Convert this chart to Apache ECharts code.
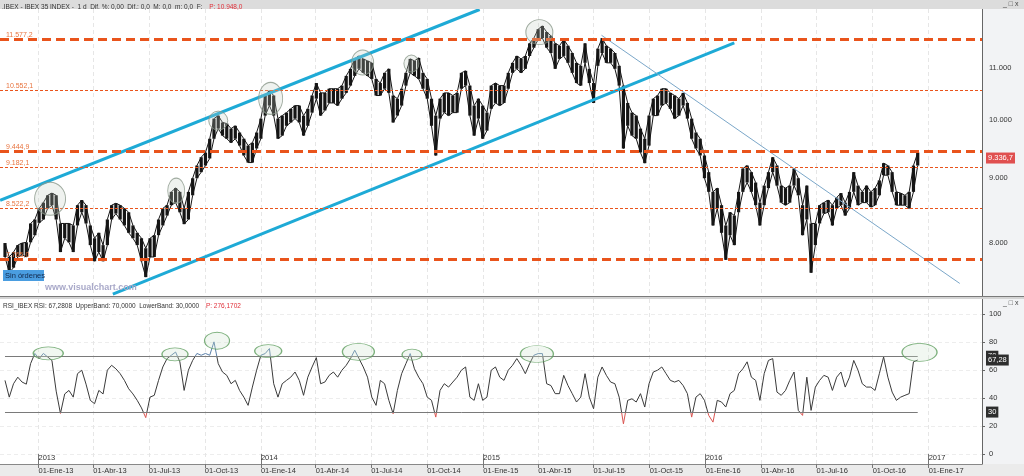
<!DOCTYPE html>
<html lang="es">
<head>
<meta charset="utf-8">
<title>IBEX 35</title>
<script src="https://cdn.jsdelivr.net/npm/echarts@6.0.0/dist/echarts.min.js"></script>
<style>
html,body{margin:0;padding:0;background:#fff;overflow:hidden}
#chart{width:1024px;height:476px}
</style>
</head>
<body>
<div id="chart"></div>
<script>
// ---------------- data ----------------
const firstWeek = '2012-11-07'; // weekly samples (one per week)
const weekLow = [
7800,7580,7650,7800,7830,7800,8010,8115,8300,8350,
8520,8570,8350,7870,8070,8010,7870,8260,8460,8290,
7970,7740,7870,7740,7970,8350,8440,8350,8260,8150,
8070,7970,7740,7520,7800,7800,8115,8260,8410,8570,
8610,8460,8280,8350,8725,9000,9100,9210,9330,9670,
9850,9725,9670,9600,9670,9550,9380,9260,9260,9500,
9670,10085,10270,10085,9670,9725,9900,9960,10030,9960,
9725,9900,10140,10400,10085,10180,10320,10320,10270,10400,
10510,10650,10840,10980,10900,10840,10780,10460,10460,10590,
10510,9960,10085,10270,10650,10900,10840,10780,10590,10400,
9900,9380,10030,10140,10085,10140,10140,10590,10650,10085,
9725,10030,9670,9814,10210,10320,10270,10320,10590,10900,
10980,10900,10980,11240,11410,11580,11610,11410,11300,10980,
11180,11240,11100,10900,10700,10650,11100,10700,10320,11040,
11300,11100,11100,10980,10650,9500,9900,9725,9670,9430,
9250,9550,10085,10085,10270,10320,10210,10030,10085,10270,
10030,9670,9500,9380,9000,8780,8260,8520,8150,7760,
8115,7970,8460,8780,8930,8780,8570,8260,8570,8840,
9100,8880,8610,8570,8610,8880,8725,8115,8350,7580,
7970,8290,8440,8460,8260,8520,8570,8410,8520,8780,
8570,8610,8610,8540,8570,8725,9050,9050,8780,8570,
8570,8570,8520,8780,9210];
const weekHigh = [
8000,7800,7870,7970,8000,8010,8290,8350,8520,8610,
8725,8760,8725,8290,8290,8290,8260,8570,8650,8570,
8260,8070,8150,7970,8350,8570,8600,8570,8520,8460,
8260,8150,8070,7925,8070,8115,8350,8520,8570,8780,
8840,8780,8520,8780,9000,9210,9350,9430,9670,10030,
10085,9960,9940,9850,9900,9780,9670,9550,9600,9780,
10030,10460,10550,10460,10030,10085,10140,10210,10270,10270,
10085,10210,10460,10700,10510,10510,10590,10590,10590,10650,
10840,10980,11180,11240,11180,11140,11100,10780,10700,10900,
10980,10460,10400,10590,10900,11180,11140,11200,10900,10780,
10400,10085,10400,10510,10510,10460,10510,10900,10940,10650,
10270,10400,10270,10140,10650,10700,10650,10650,10900,11100,
11240,11180,11240,11500,11610,11800,11870,11740,11660,11500,
11450,11580,11450,11300,11100,11040,11500,10980,10700,11390,
11610,11450,11390,11300,11040,10650,10320,10140,10085,9850,
9670,10085,10400,10460,10590,10590,10510,10460,10400,10510,
10320,10030,9780,9670,9380,9100,8780,8840,8570,8260,
8460,8410,8780,9160,9210,9100,8930,8610,8880,9100,
9350,9210,8880,8840,8880,9160,9000,8570,8880,8290,
8290,8570,8610,8650,8570,8690,8760,8610,8780,9100,
8880,8780,8880,8780,8840,8965,9250,9210,9100,8780,
8760,8725,8780,9210,9430];
const rsiWeekly = [
52.7,40.7,50.3,55,51.5,50,64.7,72,68.3,72,
69.5,67,45,29,43,45.5,40.7,57.5,60,50,
38.4,36,45.5,43,60,63.5,61,57.5,52.7,46.7,
43,38.4,33,26,40.7,42,52.7,62.3,68.3,70.7,
73,66,45.5,60,67,72,70.7,72,70.7,80.3,
64.7,58.7,56.3,50.3,52.7,45.5,40.7,34.8,47.9,60,
70.7,71.9,75.5,50.3,40.7,50.3,52.7,55,58.7,52.7,
42,55,62.3,69,50.3,51.5,56.3,58.7,55,60,
63.5,68.3,74.3,68.3,62.3,55,40.7,34.8,52.7,50.3,
38.4,28.8,45.5,57.5,64.7,71.9,61,55,50.3,40.7,
38.4,26.4,45.5,50.3,47.9,51.5,55,60,62.3,40.7,
38.4,50.3,38.4,40.7,60,62.3,55,52.7,60,63.5,
68.3,63.5,57.5,64.7,70.7,71.9,71.9,50.3,49,43.2,
43.2,56.3,49,43.2,37.2,40.7,57.5,40.7,32.4,55,
62.3,56.3,51.5,50.3,40.7,21.6,38.4,39.5,37.2,43.2,
33.6,50.3,58.7,60,62.3,57.5,52.7,51.5,52.7,49,
43.2,26.4,40.7,43.2,38.4,27.6,22.8,38.4,37.2,33.6,
43.2,45.5,57.5,61,66,55,52.7,38.4,57.5,67,
68.3,44.3,42,45.5,52.7,58.7,31.2,27.6,55,31.2,
47.9,52.7,56.3,55,45.5,55,58.7,47.9,55,67,
60,50.3,47.9,47.9,45.5,57.5,69.5,55,44.3,38.4,
40.7,42,43.2,66,67.3];
const quarterTicks = ['2013-01-01','2013-04-01','2013-07-01','2013-10-01','2014-01-01','2014-04-01','2014-07-01','2014-10-01',
  '2015-01-01','2015-04-01','2015-07-01','2015-10-01','2016-01-01','2016-04-01','2016-07-01','2016-10-01','2017-01-01'];
const yearTicks = ['2013-01-01','2014-01-01','2015-01-01','2016-01-01','2017-01-01'];
const thickLevels = [11577.2, 9444.9, 7765.0];
const thinLevels = [10552.1, 9182.1, 8522.2];
const priceTickValues = [8000, 9000, 10000, 11000];
const rsiTickValues = [0, 20, 40, 60, 80, 100];
const rsiBands = [70, 30];
const lastPrice = 9336.7;
const lastRsi = 67.28;
const upperChannel = [['2012-10-30', 8647], ['2014-12-26', 12230]];
const lowerChannel = [['2013-05-03', 7291], ['2016-02-17', 11510]];
const downTrend = [['2015-07-14', 11671], ['2017-02-21', 7434]];
const priceMarks = [['2013-01-20', 8671], ['2013-08-15', 8798], ['2013-10-23', 9993], ['2014-01-17', 10405],
  ['2014-06-17', 11106], ['2014-09-05', 11086], ['2015-04-03', 11737]];
const rsiMarks = [['2013-01-17', 72.1], ['2013-08-13', 71.4], ['2013-10-21', 81.1], ['2014-01-13', 73.7],
  ['2014-06-10', 73.2], ['2014-09-06', 71.1], ['2015-03-30', 71.6], ['2016-12-17', 72.8]];
// annotation sizes (style only)
const priceMarkSizes = [[31, 33], [17, 25], [19, 19], [24, 32], [22, 25], [15, 17], [27, 25]];
const rsiMarkSizes = [[30, 13], [26, 13], [25, 17], [27, 13], [32, 17], [20, 11], [33, 17], [35, 18]];

// ---------------- helpers ----------------
const DAY = 86400000;
const T = s => { const p = s.split('-').map(Number); return Date.UTC(p[0], p[1] - 1, p[2]); };
const weekDates = weekLow.map((_, i) => T(firstWeek) + i * 7 * DAY);
const fmtES = (v, dec) => {
  const parts = v.toFixed(dec).split('.');
  const i = parts[0].replace(/\B(?=(\d{3})+(?!\d))/g, '.');
  return parts[1] ? i + ',' + parts[1] : i;
};
const MESES = ['Ene','Feb','Mar','Abr','May','Jun','Jul','Ago','Sep','Oct','Nov','Dic'];
const FONT = "'Liberation Sans', Arial, sans-serif";
const xMin = T('2013-01-01') - 63.2 * DAY;
const xMax = T('2013-01-01') + 1548.5 * DAY;
const qTicks = quarterTicks.map(T);
const yTicks = yearTicks.map(T);
const toPts = arr => arr.map(p => [T(p[0]), p[1]]);
const HIDDEN_LINE = {width: 0, color: 'rgba(0,0,0,0)'};

const chart = echarts.init(document.getElementById('chart'), null, {renderer: 'canvas'});

const gridLine = {show: true, lineStyle: {color: '#e6e6e6', width: 1, type: [4, 3]}};
const tagLabel = (text, bg) => ({show: true, position: 'end', formatter: text, backgroundColor: bg, color: '#fff',
  padding: [2, 2, 1, 2], fontSize: 7.5, fontFamily: FONT, distance: 4});

const option = {
  animation: false,
  backgroundColor: '#ffffff',
  textStyle: {fontFamily: FONT},
  grid: [
    {left: 0, right: 42, top: 9, height: 287},
    {left: 0, right: 42, top: 299, height: 165}
  ],
  xAxis: [
    {type: 'value', gridIndex: 0, min: xMin, max: xMax, scale: true,
      axisLine: {show: false}, axisLabel: {show: false},
      axisTick: {show: false, customValues: qTicks}, splitLine: gridLine},
    {type: 'value', gridIndex: 1, min: xMin, max: xMax, position: 'bottom', scale: true,
      axisLine: {show: true, onZero: false, lineStyle: {color: '#888', width: 1}},
      axisTick: {show: true, customValues: qTicks, length: 4, lineStyle: {color: '#777'}},
      axisLabel: {customValues: qTicks, align: 'left', margin: 3, fontSize: 7.5, color: '#333', fontFamily: FONT,
        formatter: v => { const d = new Date(v); return '01-' + MESES[d.getUTCMonth()] + '-' + String(d.getUTCFullYear()).slice(2); }},
      splitLine: gridLine},
    {type: 'value', gridIndex: 1, min: xMin, max: xMax, position: 'bottom', scale: true,
      axisLine: {show: false, onZero: false},
      axisTick: {show: true, inside: true, customValues: yTicks, length: 10, lineStyle: {color: '#777'}},
      axisLabel: {show: true, inside: true, customValues: yTicks, align: 'left', margin: 2, fontSize: 7.5, color: '#333', fontFamily: FONT,
        formatter: v => String(new Date(v).getUTCFullYear())},
      splitLine: {show: false}}
  ],
  yAxis: [
    {type: 'log', logBase: 10, gridIndex: 0, position: 'right', min: 7266, max: 12241,
      axisLine: {show: true, lineStyle: {color: '#666'}}, axisTick: {show: false},
      axisLabel: {show: false}, splitLine: {show: false}},
    {type: 'value', gridIndex: 1, position: 'right', min: -7.2, max: 111,
      axisLine: {show: true, lineStyle: {color: '#666'}},
      axisTick: {show: true, customValues: rsiTickValues, length: 3, lineStyle: {color: '#666'}},
      axisLabel: {customValues: rsiTickValues, fontSize: 7.5, color: '#333', margin: 7, fontFamily: FONT},
      splitLine: {show: true, lineStyle: {color: '#ededed', type: [4, 3]}}}
  ],
  visualMap: [{
    type: 'piecewise', show: false, seriesIndex: 9, dimension: 1,
    pieces: [{lt: 30, color: '#d9534f'}, {gte: 30, lte: 70, color: '#3a3a3a'}, {gt: 70, color: '#5a7fa8'}]
  }],
  series: [
    // 0: support / resistance levels
    {type: 'line', xAxisIndex: 0, yAxisIndex: 0, data: [], z: 1, silent: true,
      markLine: {symbol: ['none', 'none'], silent: true, animation: false,
        label: {position: 'insideStartTop', color: '#e8743f', fontSize: 7, fontFamily: FONT, distance: [6, 1]},
        data: [
          ...thickLevels.map(v => ({yAxis: v, lineStyle: {color: '#e9541c', width: 3, type: [9, 5]}, label: {formatter: fmtES(v, 1)}})),
          ...thinLevels.map(v => ({yAxis: v, lineStyle: {color: '#e9541c', width: 1.2, type: [3, 2]}, label: {formatter: fmtES(v, 1)}}))
        ]}},
    // 1: weekly high-low bars
    {type: 'custom', xAxisIndex: 0, yAxisIndex: 0, z: 3, silent: true,
      data: weekDates.map((t, i) => [t, weekLow[i], weekHigh[i]]),
      encode: {x: 0, y: [1, 2]},
      renderItem: (params, api) => {
        const t = api.value(0);
        const a = api.coord([t, api.value(1)]);
        const b = api.coord([t, api.value(2)]);
        return {type: 'line', shape: {x1: a[0], y1: a[1], x2: b[0], y2: b[1]}, style: {stroke: '#151515', lineWidth: 3.2}};
      }},
    // 2,3: high / low envelopes
    {type: 'line', xAxisIndex: 0, yAxisIndex: 0, z: 3, silent: true, showSymbol: false,
      data: weekDates.map((t, i) => [t, weekHigh[i]]), lineStyle: {color: '#151515', width: 1}},
    {type: 'line', xAxisIndex: 0, yAxisIndex: 0, z: 3, silent: true, showSymbol: false,
      data: weekDates.map((t, i) => [t, weekLow[i]]), lineStyle: {color: '#151515', width: 1}},
    // 4,5: channel
    {type: 'line', xAxisIndex: 0, yAxisIndex: 0, z: 4, silent: true, showSymbol: false,
      data: toPts(upperChannel), lineStyle: {color: '#1eaad6', width: 3}},
    {type: 'line', xAxisIndex: 0, yAxisIndex: 0, z: 4, silent: true, showSymbol: false,
      data: toPts(lowerChannel), lineStyle: {color: '#1eaad6', width: 3}},
    // 6: descending trend line
    {type: 'line', xAxisIndex: 0, yAxisIndex: 0, z: 4, silent: true, showSymbol: false,
      data: toPts(downTrend), lineStyle: {color: '#7ba7c9', width: 1}},
    // 7: circled highs
    {type: 'scatter', xAxisIndex: 0, yAxisIndex: 0, z: 5, silent: true,
      data: toPts(priceMarks),
      symbol: 'circle', symbolSize: (v, p) => priceMarkSizes[p.dataIndex],
      itemStyle: {color: 'rgba(195,205,195,0.32)', borderColor: '#8a978a', borderWidth: 1}},
    // 8: price axis labels + last price tag
    {type: 'line', xAxisIndex: 0, yAxisIndex: 0, data: [], z: 6, silent: true,
      markLine: {symbol: ['none', 'none'], silent: true, animation: false,
        lineStyle: HIDDEN_LINE,
        label: {show: true, position: 'end', fontSize: 7.5, color: '#333', distance: 7, fontFamily: FONT},
        data: [
          ...priceTickValues.map(v => ({yAxis: v, lineStyle: HIDDEN_LINE, label: {formatter: fmtES(v, 0)}})),
          {yAxis: lastPrice, lineStyle: HIDDEN_LINE, label: tagLabel(fmtES(lastPrice, 1), '#e05050')}
        ]}},
    // 9: RSI
    {type: 'line', xAxisIndex: 1, yAxisIndex: 1, z: 3, silent: true, showSymbol: false,
      data: weekDates.map((t, i) => [t, rsiWeekly[i]]), lineStyle: {width: 1}},
    // 10: RSI bands and tags
    {type: 'line', xAxisIndex: 1, yAxisIndex: 1, data: [], z: 2, silent: true,
      markLine: {symbol: ['none', 'none'], silent: true, animation: false,
        data: [
          ...rsiBands.map(v => [{coord: [weekDates[0], v], lineStyle: {color: '#7a7a7a', width: 1, type: 'solid'}, label: {show: false}},
                                {coord: [weekDates[weekDates.length - 1], v]}]),
          ...rsiBands.map(v => ({yAxis: v, lineStyle: HIDDEN_LINE, label: tagLabel(fmtES(v, 0), '#2e2e2e')})),
          {yAxis: lastRsi, lineStyle: HIDDEN_LINE, label: tagLabel(fmtES(lastRsi, 2), '#2e2e2e')}
        ]}},
    // 11: circled RSI peaks
    {type: 'scatter', xAxisIndex: 1, yAxisIndex: 1, z: 5, silent: true,
      data: toPts(rsiMarks),
      symbol: 'circle', symbolSize: (v, p) => rsiMarkSizes[p.dataIndex],
      itemStyle: {color: 'rgba(205,228,205,0.35)', borderColor: '#5e9e5e', borderWidth: 1}}
  ],
  graphic: [
    {type: 'rect', z: -10, shape: {x: 983, y: 9, width: 41, height: 455}, style: {fill: '#f2f3f5'}},
    {type: 'rect', z: -10, shape: {x: 0, y: 464, width: 1024, height: 12}, style: {fill: '#ebebeb'}},
    {type: 'rect', z: 50, shape: {x: 0, y: 0, width: 1024, height: 9}, style: {fill: '#dcdcdc'}},
    {type: 'rect', z: 50, shape: {x: 0, y: 296, width: 1024, height: 3}, style: {fill: '#d4d4d4'}},
    {type: 'line', z: 51, shape: {x1: 0, y1: 296.5, x2: 1024, y2: 296.5}, style: {stroke: '#7a7a7a', lineWidth: 1}},
    {type: 'text', z: 60, x: 2, y: 1, style: {
      text: '{a|.IBEX - IBEX 35 INDEX -  1 d  Dif. %: 0,00  Dif.: 0,0  M: 0,0  m: 0,0  F:}  {b|P: 10.948,0}',
      rich: {a: {fontSize: 6.5, fontFamily: FONT, fill: '#333', color: '#333'}, b: {fontSize: 6.5, fontFamily: FONT, fill: '#e0303a', color: '#e0303a'}}}},
    {type: 'text', z: 60, x: 1003, y: 0.5, style: {text: '_ \u25a1 x', fontSize: 7, fontFamily: FONT, fill: '#444'}},
    {type: 'text', z: 60, x: 3, y: 300, style: {
      text: '{a|RSI_IBEX RSI: 67,2808  UpperBand: 70,0000  LowerBand: 30,0000}  {b|P: 276,1702}',
      rich: {a: {fontSize: 6.5, fontFamily: FONT, fill: '#333', color: '#333'}, b: {fontSize: 6.5, fontFamily: FONT, fill: '#e0303a', color: '#e0303a'}}}},
    {type: 'text', z: 60, x: 1003, y: 300, style: {text: '_ \u25a1 x', fontSize: 7, fontFamily: FONT, fill: '#444'}},
    {type: 'rect', z: 60, shape: {x: 3, y: 270, width: 41, height: 11}, style: {fill: '#4a9de0'}},
    {type: 'text', z: 61, x: 5, y: 271.5, style: {text: 'Sin órdenes', fontSize: 7.5, fontFamily: FONT, fill: '#13294b'}},
    {type: 'text', z: 60, x: 45, y: 283, style: {text: 'www.visualchart.com', fontSize: 9, fontWeight: 'bold', fontFamily: FONT, fill: '#a9a9c9'}}
  ]
};
chart.setOption(option);
</script>
</body>
</html>
